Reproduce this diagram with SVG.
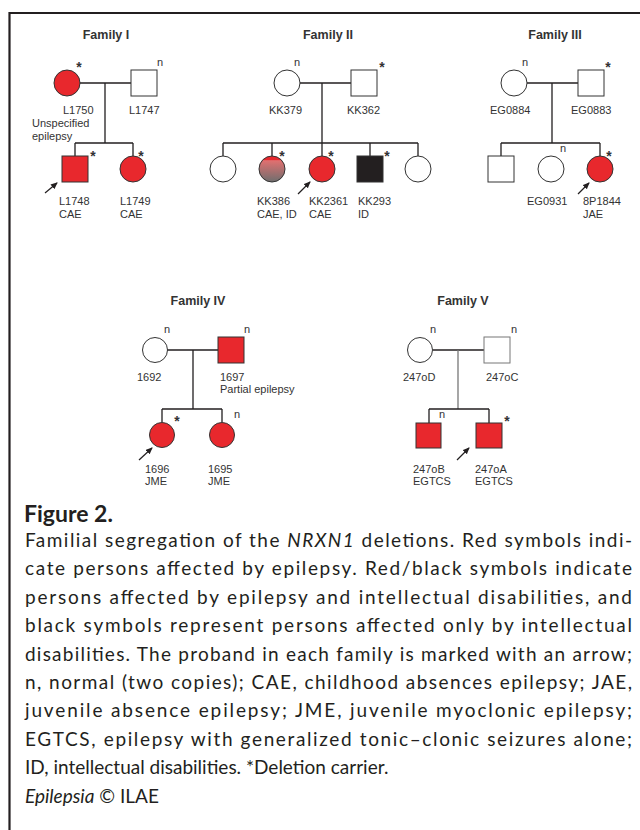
<svg xmlns="http://www.w3.org/2000/svg" width="640" height="830" viewBox="0 0 640 830">
<style>
.t{font-family:"Liberation Sans",Arial,sans-serif;font-size:11px;fill:#333}
.h{font-family:"Liberation Sans",Arial,sans-serif;font-size:12.5px;font-weight:bold;fill:#333;text-anchor:middle}
.s{font-family:"Liberation Sans",Arial,sans-serif;font-size:14px;font-weight:bold;fill:#333;text-anchor:middle}
.n{font-family:"Liberation Sans",Arial,sans-serif;font-size:11px;fill:#333;text-anchor:middle}
.w{fill:#fff;stroke:#333;stroke-width:1}
.r{fill:#e8282d;stroke:#333;stroke-width:1}
.k{fill:#231f20;stroke:#333;stroke-width:1}
.ln{stroke:#231f20;stroke-width:1.3;fill:none}
.ar{stroke:#231f20;stroke-width:1.2;marker-end:url(#ah)}
.c{font-family:Lato,"Open Sans",sans-serif;font-size:19px;fill:#231f20}
</style>
<defs>
<marker id="ah" markerWidth="8" markerHeight="8" refX="6" refY="3" orient="auto" markerUnits="userSpaceOnUse">
<path d="M0,0 L7,3 L0,6 Z" fill="#231f20"/>
</marker>
<linearGradient id="rb" x1="0" y1="0" x2="0" y2="1">
<stop offset="0" stop-color="#e8282d"/>
<stop offset="0.14" stop-color="#e8282d"/>
<stop offset="0.18" stop-color="#e07070"/>
<stop offset="1" stop-color="#6e6e6e"/>
</linearGradient>
</defs>
<rect width="640" height="830" fill="#fff"/>
<path d="M9.5,830 V13 H640" fill="none" stroke="#231f20" stroke-width="2.2"/>

<g id="connectors">
<path class="ln" d="M80,83 H131 M105,83 V143 M75,143 H133 M75,143 V156 M133,143 V156"/>
<path class="ln" d="M300,83 H351 M322,83 V143 M223,143 H418 M223,143 V156 M272,143 V156 M322,143 V156 M370,143 V156 M418,143 V156"/>
<path class="ln" d="M527,83 H578 M552,83 V143 M501,143 H600 M501,143 V156"/>
<path class="ln" stroke-width="2" d="M600,143 V156"/>
<path class="ln" d="M167,350 H218 M193,350 V409 M162,409 H222 M162,409 V422 M222,409 V422"/>
<path class="ln" d="M433,350 H484"/>
<path stroke="#777" stroke-width="1.3" d="M458,350 V409"/>
<path class="ln" stroke-width="2" d="M429,409 H489 M429,409 V423 M489,409 V423"/>
<line class="ar" x1="45" y1="193" x2="57" y2="183"/>
<line class="ar" x1="298" y1="194" x2="310" y2="182"/>
<line class="ar" x1="578" y1="194" x2="589" y2="183"/>
<line class="ar" x1="139" y1="460" x2="152" y2="448"/>
<line class="ar" x1="457" y1="460" x2="469" y2="448"/>
</g>

<text class="h" x="106" y="39">Family I</text>
<text class="h" x="328" y="39">Family II</text>
<text class="h" x="555" y="39">Family III</text>
<text class="h" x="198" y="305">Family IV</text>
<text class="h" x="463" y="305">Family V</text>

<g id="L1750"><circle class="r" cx="67" cy="83" r="13"/><text class="s" x="79" y="72">*</text><text class="t" x="63" y="114">L1750</text><text class="t" x="32" y="127">Unspecified</text><text class="t" x="32" y="140">epilepsy</text></g>
<g id="L1747"><rect class="w" x="131" y="70" width="26" height="26"/><text class="n" x="160" y="66">n</text><text class="t" x="129" y="114">L1747</text></g>
<g id="L1748"><rect class="r" x="62" y="156" width="26" height="26"/><text class="s" x="93" y="161">*</text><text class="t" x="59" y="205">L1748</text><text class="t" x="59" y="218">CAE</text></g>
<g id="L1749"><circle class="r" cx="133" cy="169" r="13"/><text class="s" x="141" y="161">*</text><text class="t" x="120" y="205">L1749</text><text class="t" x="120" y="218">CAE</text></g>

<g id="KK379"><circle class="w" cx="287" cy="83" r="13"/><text class="n" x="297" y="66">n</text><text class="t" x="269" y="114">KK379</text></g>
<g id="KK362"><rect class="w" x="351" y="70" width="26" height="26"/><text class="s" x="382" y="72">*</text><text class="t" x="347" y="114">KK362</text></g>
<g id="II-c1"><circle class="w" cx="223" cy="169" r="13"/></g>
<g id="KK386"><circle cx="272" cy="169" r="13" fill="url(#rb)" stroke="#333"/><text class="s" x="282" y="161">*</text><text class="t" x="257" y="205">KK386</text><text class="t" x="257" y="218">CAE, ID</text></g>
<g id="KK2361"><circle class="r" cx="322" cy="169" r="13"/><text class="s" x="331" y="161">*</text><text class="t" x="309" y="205">KK2361</text><text class="t" x="309" y="218">CAE</text></g>
<g id="KK293"><rect class="k" x="357" y="156" width="26" height="26"/><text class="s" x="387" y="161">*</text><text class="t" x="358" y="205">KK293</text><text class="t" x="358" y="218">ID</text></g>
<g id="II-c5"><circle class="w" cx="418" cy="169" r="13"/></g>

<g id="EG0884"><circle class="w" cx="514" cy="83" r="13"/><text class="n" x="525" y="66">n</text><text class="t" x="490" y="114">EG0884</text></g>
<g id="EG0883"><rect class="w" x="578" y="70" width="26" height="26"/><text class="s" x="608" y="72">*</text><text class="t" x="571" y="114">EG0883</text></g>
<g id="III-c1"><rect class="w" x="488" y="156" width="26" height="26"/></g>
<g id="EG0931"><circle class="w" cx="551" cy="169" r="13"/><text class="n" x="563" y="152">n</text><text class="t" x="527" y="205">EG0931</text></g>
<g id="P1844"><circle class="r" cx="600" cy="169" r="13"/><text class="s" x="609" y="161">*</text><text class="t" x="583" y="205">8P1844</text><text class="t" x="583" y="218">JAE</text></g>

<g id="n1692"><circle class="w" cx="155" cy="350" r="12.5"/><text class="n" x="167" y="333">n</text><text class="t" x="137" y="381">1692</text></g>
<g id="n1697"><rect class="r" x="218" y="337" width="26" height="26"/><text class="n" x="247" y="333">n</text><text class="t" x="220" y="381">1697</text><text class="t" x="220" y="393">Partial epilepsy</text></g>
<g id="n1696"><circle class="r" cx="162" cy="435" r="12.5"/><text class="s" x="177" y="426">*</text><text class="t" x="145" y="473">1696</text><text class="t" x="145" y="485">JME</text></g>
<g id="n1695"><circle class="r" cx="222" cy="435" r="12.5"/><text class="n" x="237" y="418">n</text><text class="t" x="208" y="473">1695</text><text class="t" x="208" y="485">JME</text></g>

<g id="n247oD"><circle class="w" cx="420" cy="350" r="12.5"/><text class="n" x="433" y="333">n</text><text class="t" x="403" y="381">247oD</text></g>
<g id="n247oC"><rect x="484" y="337" width="26" height="26" fill="#fff" stroke="#777"/><text class="n" x="514" y="333">n</text><text class="t" x="486" y="381">247oC</text></g>
<g id="n247oB"><rect class="r" x="416" y="423" width="25" height="25"/><text class="n" x="442" y="418">n</text><text class="t" x="413" y="473">247oB</text><text class="t" x="413" y="485">EGTCS</text></g>
<g id="n247oA"><rect class="r" x="476" y="423" width="26" height="25"/><text class="s" x="507" y="426">*</text><text class="t" x="475" y="473">247oA</text><text class="t" x="475" y="485">EGTCS</text></g>

<g id="caption">
<text x="24" y="522" font-family="Lato,'Open Sans',sans-serif" font-size="23" font-weight="bold" fill="#231f20">Figure 2.</text>
<text class="c" x="25" y="547" textLength="607" lengthAdjust="spacing">Familial segregation of the <tspan font-style="italic">NRXN1</tspan> deletions. Red symbols indi-</text>
<text class="c" x="25" y="575" textLength="607" lengthAdjust="spacing">cate persons affected by epilepsy. Red/black symbols indicate</text>
<text class="c" x="25" y="604" textLength="607" lengthAdjust="spacing">persons affected by epilepsy and intellectual disabilities, and</text>
<text class="c" x="25" y="632" textLength="607" lengthAdjust="spacing">black symbols represent persons affected only by intellectual</text>
<text class="c" x="25" y="661" textLength="607" lengthAdjust="spacing">disabilities. The proband in each family is marked with an arrow;</text>
<text class="c" x="25" y="689" textLength="607" lengthAdjust="spacing">n, normal (two copies); CAE, childhood absences epilepsy; JAE,</text>
<text class="c" x="25" y="717" textLength="607" lengthAdjust="spacing">juvenile absence epilepsy; JME, juvenile myoclonic epilepsy;</text>
<text class="c" x="25" y="746" textLength="607" lengthAdjust="spacing">EGTCS, epilepsy with generalized tonic–clonic seizures alone;</text>
<text class="c" x="25" y="774">ID, intellectual disabilities. *Deletion carrier.</text>
<text class="c" x="25" y="803"><tspan font-style="italic">Epilepsia</tspan> © ILAE</text>
</g>
</svg>
